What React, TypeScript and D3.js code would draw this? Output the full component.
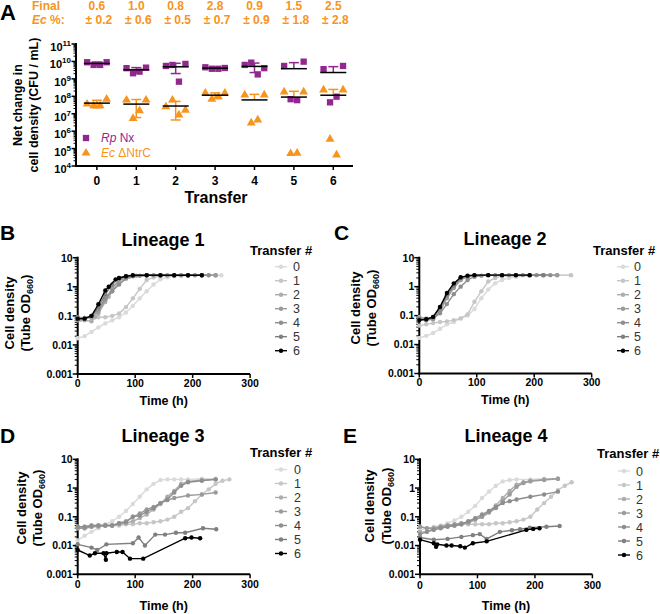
import React from 'react';
import * as d3 from 'd3';

const FONT = 'Liberation Sans, Arial, sans-serif';
const PURPLE = '#92278F';
const ORANGE = '#F7941D';

// ---------- Panel A data ----------
const transfers = [0, 1, 2, 3, 4, 5, 6];
const finalEc = ['0.6', '1.0', '0.8', '2.8', '0.9', '1.5', '2.5'];
const finalEcSd = ['0.2', '0.6', '0.5', '0.7', '0.9', '1.8', '2.8'];
const rpNx = [
  [9e9, 6.3e9, 6.3e9, 9e9],
  [4.1e9, 2.1e9, 2.6e9, 4.4e9],
  [5.5e9, 6.3e9, 6.9e8, 7.2e9],
  [4.6e9, 3.8e9, 3.8e9, 4.2e9],
  [6.3e9, 8.5e9, 1.8e9, 4.1e9],
  [5.5e9, 6.8e7, 6e7, 9.7e9],
  [3.6e9, 4.5e7, 9.5e7, 5.5e9],
];
const ecNtrC = [
  [3.6e7, 2.9e7, 2.9e7, 6.8e7],
  [6.1e7, 5.4e6, 1.5e7, 6.1e7],
  [2.5e7, 6.1e7, 8.5e6, 1.6e7],
  [1.5e8, 6.8e7, 9.5e7, 1.5e8],
  [1.2e8, 3e6, 4.4e6, 1.2e8],
  [1.8e8, 5.2e4, 5.5e4, 1.8e8],
  [2.3e8, 3.5e5, 4.3e4, 2.3e8],
];
const yExpA = [4, 5, 6, 7, 8, 9, 10, 11];

// ---------- Growth curve data (time h, OD660) ----------
const transferLabels = ['0', '1', '2', '3', '4', '5', '6'];
const seriesColors = ['#DADADA', '#C6C6C6', '#ADADAD', '#9B9B9B', '#8E8E8E', '#7F7F7F', '#000000'];
const odTicks = [10, 1, 0.1, 0.01, 0.001];
const odTickLabels = ['10', '1', '0.1', '0.01', '0.001'];
const timeTicks = [0, 100, 200, 300];

const lineage1 = [
  [[0,0.017],[12,0.02],[24,0.028],[36,0.04],[48,0.055],[60,0.07],[72,0.09],[84,0.13],[96,0.22],[108,0.4],[120,0.7],[132,1.2],[144,1.8],[156,2.1],[168,2.3],[180,2.4],[192,2.4],[204,2.5],[216,2.5],[228,2.5],[240,2.5],[250,2.5]],
  [[0,0.08],[12,0.085],[24,0.085],[36,0.09],[48,0.09],[60,0.1],[72,0.12],[84,0.2],[96,0.4],[108,0.85],[120,1.7],[132,2.1],[144,2.3],[156,2.4],[168,2.4],[180,2.5],[192,2.5],[216,2.5],[240,2.5]],
  [[0,0.07],[6,0.075],[12,0.07],[24,0.065],[30,0.09],[36,0.12],[48,0.3],[54,0.45],[60,0.7],[72,1.5],[78,1.9],[90,2.2],[102,2.4],[120,2.5],[144,2.5],[168,2.5],[192,2.5],[216,2.5],[240,2.5]],
  [[0,0.08],[12,0.08],[24,0.09],[36,0.14],[48,0.35],[60,0.9],[72,1.7],[84,2.2],[96,2.4],[120,2.5],[144,2.5],[168,2.5],[192,2.5],[216,2.5],[240,2.5]],
  [[0,0.09],[12,0.085],[24,0.1],[36,0.17],[48,0.4],[60,0.7],[72,1.2],[84,1.9],[96,2.3],[108,2.4],[132,2.5],[156,2.5],[180,2.5],[204,2.5],[228,2.5]],
  [[0,0.075],[12,0.08],[24,0.1],[36,0.2],[48,0.55],[60,1.2],[72,2.0],[84,2.3],[96,2.4],[120,2.5],[144,2.5],[168,2.5],[192,2.5],[216,2.5]],
  [[0,0.08],[12,0.08],[24,0.1],[36,0.25],[48,0.75],[54,1.0],[66,1.8],[72,2.0],[84,2.3],[96,2.5],[120,2.5],[144,2.5],[168,2.5],[192,2.5],[216,2.5]],
];

const lineage2 = [
  [[0,0.017],[12,0.02],[24,0.025],[36,0.035],[48,0.05],[60,0.06],[72,0.08],[84,0.1],[96,0.17],[108,0.4],[120,0.8],[132,1.3],[144,1.7],[156,2.0],[168,2.2],[192,2.4],[216,2.5],[240,2.5],[264,2.5]],
  [[0,0.045],[12,0.05],[24,0.055],[36,0.06],[48,0.063],[60,0.07],[72,0.08],[84,0.11],[96,0.3],[108,0.7],[120,1.5],[132,2.0],[144,2.3],[168,2.4],[192,2.5],[216,2.5],[240,2.5],[264,2.5]],
  [[0,0.09],[12,0.08],[24,0.08],[36,0.15],[48,0.45],[60,1.0],[72,1.8],[84,2.2],[96,2.4],[120,2.5],[144,2.5],[168,2.5],[192,2.5],[216,2.5],[240,2.5]],
  [[0,0.07],[12,0.07],[24,0.075],[36,0.14],[48,0.4],[60,0.9],[72,1.7],[84,2.2],[96,2.4],[120,2.5],[144,2.5],[168,2.5],[192,2.5],[216,2.5],[240,2.5]],
  [[0,0.08],[12,0.07],[24,0.08],[36,0.12],[48,0.25],[60,0.55],[72,1.0],[84,1.7],[96,2.2],[108,2.4],[132,2.5],[156,2.5],[180,2.5],[204,2.5],[228,2.5]],
  [[0,0.075],[12,0.075],[24,0.09],[36,0.18],[48,0.5],[60,1.1],[72,2.0],[84,2.3],[96,2.5],[120,2.5],[144,2.5],[168,2.5],[192,2.5],[216,2.5]],
  [[0,0.07],[12,0.075],[24,0.09],[36,0.2],[48,0.6],[60,1.3],[72,2.1],[84,2.4],[96,2.5],[120,2.5],[144,2.5],[168,2.5],[192,2.5]],
];

const lineage3 = [
  [[0,0.015],[12,0.022],[24,0.03],[36,0.04],[48,0.055],[60,0.07],[72,0.1],[84,0.16],[96,0.28],[108,0.5],[120,0.9],[132,1.4],[144,1.9],[156,2.0],[168,2.0],[180,2.0],[192,2.0],[216,2.1],[240,2.1]],
  [[0,0.045],[12,0.045],[24,0.05],[36,0.05],[48,0.05],[60,0.05],[72,0.05],[84,0.055],[96,0.055],[108,0.06],[120,0.06],[132,0.065],[144,0.07],[156,0.08],[168,0.1],[180,0.15],[192,0.2],[204,0.35],[216,0.6],[228,0.9],[240,1.4],[252,1.8],[264,2.0]],
  [[0,0.04],[12,0.04],[24,0.045],[36,0.045],[48,0.05],[60,0.05],[72,0.055],[84,0.06],[96,0.07],[108,0.09],[120,0.12],[132,0.18],[144,0.28],[156,0.5],[168,0.8],[180,1.4],[192,1.7],[216,1.9],[240,2.0]],
  [[0,0.04],[12,0.04],[24,0.045],[36,0.05],[48,0.05],[60,0.05],[72,0.06],[84,0.07],[96,0.1],[108,0.13],[120,0.18],[132,0.22],[144,0.3],[156,0.38],[168,0.45],[192,0.55],[216,0.6],[240,0.7]],
  [[0,0.045],[12,0.045],[24,0.05],[36,0.05],[48,0.05],[60,0.05],[72,0.06],[84,0.065],[96,0.1],[108,0.11],[120,0.15],[132,0.2],[144,0.3],[156,0.4],[168,0.7],[180,1.2],[192,1.6],[216,1.8],[240,2.0]],
  [[0,0.011],[24,0.0085],[34,0.007],[50,0.011],[96,0.012],[106,0.019],[117,0.01],[135,0.024],[152,0.024],[171,0.028],[187,0.028],[218,0.04],[241,0.037]],
  [[0,0.007],[21,0.0045],[30,0.0054],[45,0.0054],[49,0.0032],[50,0.0054],[68,0.006],[78,0.006],[91,0.0035],[114,0.0035],[187,0.018],[198,0.019],[213,0.018]],
];

const lineage4 = [
  [[0,0.035],[12,0.04],[24,0.045],[36,0.05],[48,0.06],[60,0.075],[72,0.1],[84,0.15],[96,0.24],[108,0.45],[120,0.75],[132,1.2],[144,1.7],[156,1.9],[168,2.0],[192,2.0],[216,2.1],[240,2.1]],
  [[0,0.045],[12,0.04],[24,0.04],[36,0.045],[48,0.05],[60,0.05],[72,0.055],[84,0.055],[96,0.055],[108,0.055],[120,0.055],[132,0.06],[144,0.06],[156,0.065],[168,0.07],[180,0.08],[192,0.1],[204,0.18],[216,0.3],[228,0.5],[240,0.85],[252,1.2],[264,1.6]],
  [[0,0.03],[12,0.03],[24,0.04],[36,0.045],[48,0.05],[60,0.05],[72,0.055],[84,0.06],[96,0.08],[108,0.1],[120,0.15],[132,0.25],[144,0.45],[156,0.8],[168,1.3],[180,1.6],[192,1.8],[216,2.0],[240,2.1]],
  [[0,0.045],[12,0.04],[24,0.04],[36,0.045],[48,0.05],[60,0.055],[72,0.06],[84,0.065],[96,0.08],[108,0.1],[120,0.14],[132,0.2],[144,0.35],[156,0.6],[168,1.1],[180,1.5],[192,1.7],[216,1.9],[240,2.1]],
  [[0,0.025],[12,0.03],[24,0.035],[36,0.04],[48,0.045],[60,0.05],[72,0.055],[84,0.07],[96,0.09],[108,0.12],[120,0.16],[132,0.22],[144,0.3],[156,0.35],[168,0.4],[192,0.5],[216,0.6],[240,0.75]],
  [[0,0.019],[24,0.016],[48,0.017],[72,0.02],[92,0.023],[104,0.025],[116,0.017],[139,0.03],[160,0.034],[174,0.037],[191,0.042],[220,0.045],[243,0.048]],
  [[0,0.016],[24,0.012],[28,0.009],[30,0.011],[46,0.01],[55,0.01],[70,0.0095],[78,0.0085],[92,0.012],[116,0.014],[185,0.035],[197,0.038],[208,0.04]],
];

const lineageTitles = ['Lineage 1', 'Lineage 2', 'Lineage 3', 'Lineage 4'];
const panelLetters = ['B', 'C', 'D', 'E'];
const lineages = [lineage1, lineage2, lineage3, lineage4];

// layout (positions only)
const growthLayout = [
  { ax: 77.7, yTop: 257.7, yBot: 374, lx: 0, ly: 240, tx: 163, ty: 246, legX: 250, legTY: 255, row0: 266.7, line0: 275, lab: 293, t1: -64, t2: -48, tcy: 313, xtl: 387, xt: 405 },
  { ax: 419.3, yTop: 257.7, yBot: 373.5, lx: 334, ly: 240, tx: 505, ty: 245, legX: 593, legTY: 255, row0: 266.7, line0: 617, lab: 634, t1: -59, t2: -43, tcy: 308, xtl: 386, xt: 404 },
  { ax: 77.7, yTop: 459.3, yBot: 574.3, lx: 0, ly: 443, tx: 163, ty: 442, legX: 250, legTY: 457, row0: 469.5, line0: 275, lab: 294, t1: -52, t2: -36, tcy: 508, xtl: 588, xt: 610 },
  { ax: 420, yTop: 459.3, yBot: 574.3, lx: 343, ly: 443, tx: 506, ty: 442, legX: 597, legTY: 458, row0: 471, line0: 618, lab: 636, t1: -46, t2: -29, tcy: 506, xtl: 589, xt: 610 },
];

function minorLogTicks(loExp: number, hiExp: number) {
  const out: number[] = [];
  for (let e = loExp; e < hiExp; e++) for (let k = 2; k <= 9; k++) out.push(k * Math.pow(10, e));
  return out;
}

function PanelA() {
  const x = d3.scaleLinear().domain([-0.53, 6.5]).range([76, 353]);
  const y = d3.scaleLog().domain([1e4, 1e11]).range([166, 44]);
  const spread = 6.5;
  const off = (i: number, n: number) => (i - (n - 1) / 2) * spread;
  const tri = d3.symbol().type(d3.symbolTriangle).size(34)();
  const sq = d3.symbol().type(d3.symbolSquare).size(40)();

  const errBar = (vals: number[], t: number, color: string, key: string) => {
    const m = d3.mean(vals) as number;
    const s = d3.deviation(vals) as number;
    const cx = x(t);
    const els: any[] = [];
    els.push(<line key={key + 'u'} x1={cx} x2={cx} y1={y(m)} y2={y(m + s)} stroke={color} strokeWidth={1.5} />);
    els.push(<line key={key + 'uc'} x1={cx - 5} x2={cx + 5} y1={y(m + s)} y2={y(m + s)} stroke={color} strokeWidth={1.5} />);
    if (m - s > 1e4) {
      els.push(<line key={key + 'l'} x1={cx} x2={cx} y1={y(m)} y2={y(m - s)} stroke={color} strokeWidth={1.5} />);
      els.push(<line key={key + 'lc'} x1={cx - 5} x2={cx + 5} y1={y(m - s)} y2={y(m - s)} stroke={color} strokeWidth={1.5} />);
    }
    els.push(<line key={key + 'm'} x1={cx - 13} x2={cx + 13} y1={y(m)} y2={y(m)} stroke="#000" strokeWidth={1.5} />);
    return els;
  };

  return (
    <g fontFamily={FONT}>
      <text x={0} y={20} fontSize={22} fontWeight="bold">A</text>
      <text x={32} y={10} fontSize={12} fontWeight="bold" fill={ORANGE}>Final</text>
      <text x={32} y={24} fontSize={12} fontWeight="bold" fill={ORANGE}><tspan fontStyle="italic">Ec</tspan> %:</text>
      {transfers.map((t, i) => (
        <g key={'h' + t}>
          <text x={x(t)} y={10} fontSize={12} fontWeight="bold" fill={ORANGE} textAnchor="middle">{finalEc[i]}</text>
          <text x={x(t) + 2} y={24} fontSize={12} fontWeight="bold" fill={ORANGE} textAnchor="middle">± {finalEcSd[i]}</text>
        </g>
      ))}
      {/* axes */}
      <line x1={76} x2={76} y1={43} y2={166} stroke="#000" strokeWidth={2} />
      <line x1={75} x2={353} y1={166} y2={166} stroke="#000" strokeWidth={2} />
      {yExpA.map((e) => (
        <g key={'ya' + e}>
          <line x1={71.5} x2={76} y1={y(Math.pow(10, e))} y2={y(Math.pow(10, e))} stroke="#000" strokeWidth={1.5} />
          <text x={71} y={y(Math.pow(10, e)) + 7} fontSize={11} fontWeight="bold" textAnchor="end">10<tspan dy={-5} fontSize={8}>{e}</tspan></text>
        </g>
      ))}
      {minorLogTicks(4, 11).map((v, i) => (
        <line key={'ym' + i} x1={73.5} x2={76} y1={y(v)} y2={y(v)} stroke="#000" strokeWidth={1} />
      ))}
      {transfers.map((t) => (
        <g key={'xa' + t}>
          <line x1={x(t)} x2={x(t)} y1={166} y2={170} stroke="#000" strokeWidth={1.5} />
          <text x={x(t)} y={185} fontSize={12} fontWeight="bold" textAnchor="middle">{t}</text>
        </g>
      ))}
      <text x={216} y={203} fontSize={16} fontWeight="bold" textAnchor="middle">Transfer</text>
      <g transform="translate(22,105) rotate(-90)">
        <text x={0} y={0} fontSize={12.5} fontWeight="bold" textAnchor="middle">Net change in</text>
        <text x={0} y={16} fontSize={12.5} fontWeight="bold" textAnchor="middle">cell density (CFU / mL)</text>
      </g>
      {/* markers */}
      {ecNtrC.map((vals, ti) => vals.map((v, i) => (
        <path key={'ec' + ti + '-' + i} d={tri as string} transform={`translate(${x(transfers[ti]) + off(i, vals.length)},${y(v)})`} fill={ORANGE} />
      )))}
      {rpNx.map((vals, ti) => vals.map((v, i) => (
        <path key={'rp' + ti + '-' + i} d={sq as string} transform={`translate(${x(transfers[ti]) + off(i, vals.length)},${y(v)})`} fill={PURPLE} />
      )))}
      {ecNtrC.map((vals, ti) => errBar(vals, transfers[ti], ORANGE, 'eb' + ti))}
      {rpNx.map((vals, ti) => errBar(vals, transfers[ti], PURPLE, 'rb' + ti))}
      {/* legend */}
      <path d={sq as string} transform="translate(86,138)" fill={PURPLE} />
      <text x={101} y={142} fontSize={12} fill={PURPLE}><tspan fontStyle="italic">Rp</tspan> Nx</text>
      <path d={tri as string} transform="translate(86,153)" fill={ORANGE} />
      <text x={101} y={157} fontSize={12} fill={ORANGE}><tspan fontStyle="italic">Ec</tspan> ΔNtrC</text>
    </g>
  );
}

function GrowthPanel({ idx }: { idx: number }) {
  const L = growthLayout[idx];
  const data = lineages[idx];
  const x = d3.scaleLinear().domain([0, 300]).range([L.ax, L.ax + 172.4]);
  const y = d3.scaleLog().domain([0.001, 10]).range([L.yBot, L.yTop]);
  const line = d3.line<number[]>().x((d) => x(d[0])).y((d) => y(d[1]));
  return (
    <g fontFamily={FONT}>
      <text x={L.lx} y={L.ly} fontSize={21} fontWeight="bold">{panelLetters[idx]}</text>
      <text x={L.tx} y={L.ty} fontSize={18} fontWeight="bold" textAnchor="middle">{lineageTitles[idx]}</text>
      {/* y axis */}
      <line x1={L.ax} x2={L.ax} y1={L.yTop - 1} y2={L.yBot + 1} stroke="#000" strokeWidth={2} />
      <line x1={L.ax - 1} x2={L.ax + 172.4} y1={L.yBot} y2={L.yBot} stroke="#000" strokeWidth={2} />
      {odTicks.map((v, i) => (
        <g key={'yt' + i}>
          <line x1={L.ax - 5} x2={L.ax} y1={y(v)} y2={y(v)} stroke="#000" strokeWidth={1.5} />
          <text x={L.ax - 5} y={y(v) + 3.8} fontSize={10.5} fontWeight="bold" textAnchor="end">{odTickLabels[i]}</text>
        </g>
      ))}
      {minorLogTicks(-3, 1).map((v, i) => (
        <line key={'mn' + i} x1={L.ax - 3} x2={L.ax} y1={y(v)} y2={y(v)} stroke="#000" strokeWidth={1} />
      ))}
      {timeTicks.map((t) => (
        <g key={'xt' + t}>
          <line x1={x(t)} x2={x(t)} y1={L.yBot} y2={L.yBot + 4} stroke="#000" strokeWidth={1.5} />
          <text x={x(t)} y={L.xtl} fontSize={10.5} fontWeight="bold" textAnchor="middle">{t}</text>
        </g>
      ))}
      <text x={L.ax + 86} y={L.xt} fontSize={12.5} fontWeight="bold" textAnchor="middle">Time (h)</text>
      <g transform={`translate(${L.ax + L.t1},${L.tcy}) rotate(-90)`}>
        <text x={0} y={0} fontSize={13} fontWeight="bold" textAnchor="middle">Cell density</text>
      </g>
      <g transform={`translate(${L.ax + L.t2},${L.tcy}) rotate(-90)`}>
        <text x={0} y={0} fontSize={13} fontWeight="bold" textAnchor="middle">(Tube OD<tspan dy={3} fontSize={9}>660</tspan><tspan dy={-3}>)</tspan></text>
      </g>
      {/* series */}
      {data.map((s, si) => (
        <g key={'s' + si}>
          <path d={line(s as number[][]) as string} fill="none" stroke={seriesColors[si]} strokeWidth={1.4} />
          {s.map((d, j) => (
            <circle key={j} cx={x(d[0])} cy={y(d[1])} r={2.2} fill={seriesColors[si]} />
          ))}
        </g>
      ))}
      {/* legend */}
      <text x={L.legX} y={L.legTY} fontSize={13} fontWeight="bold">Transfer #</text>
      {transferLabels.map((lab, i) => (
        <g key={'lg' + i}>
          <line x1={L.line0} x2={L.line0 + 12} y1={L.row0 + i * 14} y2={L.row0 + i * 14} stroke={seriesColors[i]} strokeWidth={1.4} />
          <circle cx={L.line0 + 6} cy={L.row0 + i * 14} r={2.2} fill={seriesColors[i]} />
          <text x={L.lab} y={L.row0 + i * 14 + 4.5} fontSize={12.5} fill="#333">{lab}</text>
        </g>
      ))}
    </g>
  );
}

export default function App() {
  return (
    <svg width={660} height={614} viewBox="0 0 660 614" style={{ display: 'block', position: 'absolute', left: 0, top: 0, background: '#fff' }}>
      <rect width={660} height={614} fill="#fff" />
      <PanelA />
      {[0, 1, 2, 3].map((i) => <GrowthPanel key={i} idx={i} />)}
    </svg>
  );
}
